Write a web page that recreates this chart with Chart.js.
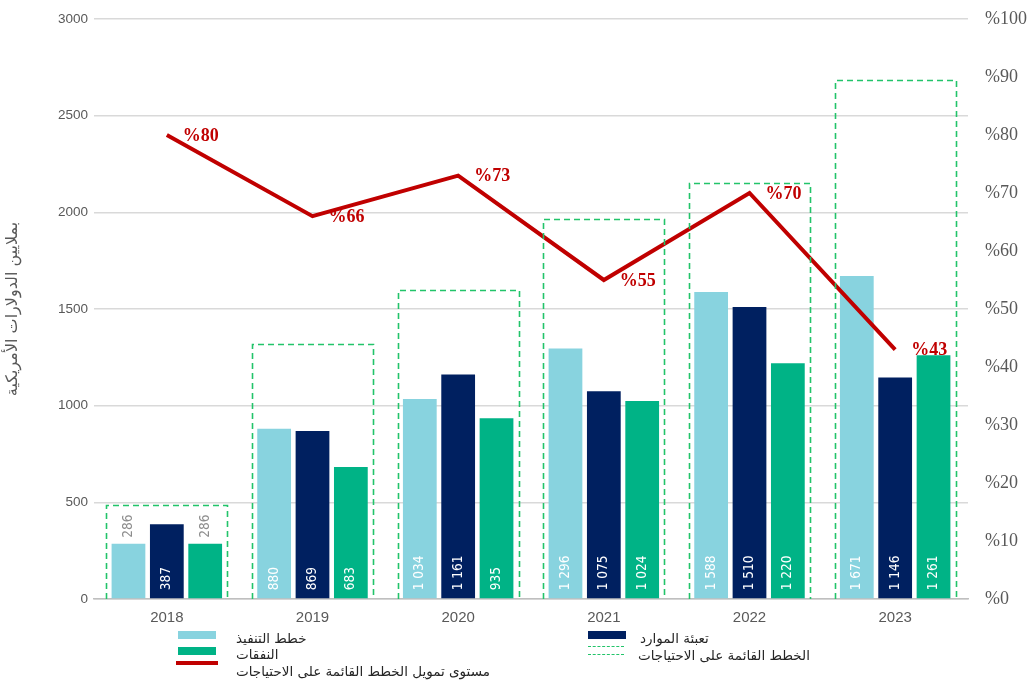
<!DOCTYPE html>
<html lang="ar">
<head>
<meta charset="utf-8">
<script src="https://cdn.jsdelivr.net/npm/chart.js@4.4.1/dist/chart.umd.min.js"></script>
<style>
  html, body { margin: 0; padding: 0; background: #ffffff; }
  #wrap { position: relative; width: 1035px; height: 682px; overflow: hidden; }
  canvas { position: absolute; left: 0; top: 0; }
  .lg-sw { position: absolute; width: 38px; height: 8px; }
  .lg-line { position: absolute; width: 42px; height: 4px; background: #c00000; }
  .lg-dash { position: absolute; width: 36px; height: 7px; border-top: 1.5px dashed #22c46a; border-bottom: 1.5px dashed #22c46a; }
  .lg-tx { position: absolute; font-family: "DejaVu Sans", sans-serif; font-size: 13.5px; color: #262626; white-space: nowrap; direction: rtl; line-height: 15px; }
</style>
</head>
<body>
<div id="wrap">
  <canvas id="c" width="1035" height="682"></canvas>
  <div class="lg-sw" style="left:178px; top:631px; background:#88d3df;"></div>
  <div class="lg-tx" style="left:236px; top:631px;">خطط التنفيذ</div>
  <div class="lg-sw" style="left:178px; top:647px; background:#00b386;"></div>
  <div class="lg-tx" style="left:236px; top:647px;">النفقات</div>
  <div class="lg-line" style="left:176px; top:661px;"></div>
  <div class="lg-tx" style="left:236px; top:664px;">مستوى تمويل الخطط القائمة على الاحتياجات</div>
  <div class="lg-sw" style="left:588px; top:631px; background:#002060;"></div>
  <div class="lg-tx" style="left:640px; top:631px;">تعبئة الموارد</div>
  <div class="lg-dash" style="left:588px; top:646px;"></div>
  <div class="lg-tx" style="left:638px; top:648px;">الخطط القائمة على الاحتياجات</div>
</div>
<script>
// ---- data ----
const years = ['2018', '2019', '2020', '2021', '2022', '2023'];
const implementationPlans = [286, 880, 1034, 1296, 1588, 1671];   // خطط التنفيذ
const resourceMobilization = [387, 869, 1161, 1075, 1510, 1146];  // تعبئة الموارد
const expenditure = [286, 683, 935, 1024, 1220, 1261];            // النفقات
const needsBasedPlans = [486, 1319, 1598, 1966, 2152, 2684];      // الخطط القائمة على الاحتياجات
const fundingLevel = [80, 66, 73, 55, 70, 43];                    // مستوى التمويل %

const seriesNames = {
  impl: 'خطط التنفيذ',
  mob: 'تعبئة الموارد',
  exp: 'النفقات',
  needs: 'الخطط القائمة على الاحتياجات',
  level: 'مستوى تمويل الخطط القائمة على الاحتياجات'
};
const yAxisTitle = 'بملايين الدولارات الأمريكية';

const COL_LIGHT = '#88d3df';
const COL_NAVY = '#002060';
const COL_GREEN = '#00b386';
const COL_RED = '#c00000';
const COL_DASH = '#22c46a';
const BOX_SHARE = 0.83; // share of a category taken by the dashed box

function fmt(v) {
  const s = String(v);
  return v >= 1000 ? s.slice(0, s.length - 3) + ' ' + s.slice(-3) : s;
}

// dashed outline boxes, positioned from the invisible dataset 3 points and the library's scales
const dashedBoxes = {
  id: 'dashedBoxes',
  afterDatasetsDraw(chart) {
    const meta = chart.getDatasetMeta(3);
    const xs = chart.scales.x;
    const ys = chart.scales.y;
    const catW = xs.getPixelForValue(1) - xs.getPixelForValue(0);
    const base = ys.getPixelForValue(0);
    const ctx = chart.ctx;
    ctx.save();
    ctx.strokeStyle = COL_DASH;
    ctx.lineWidth = 1.6;
    ctx.setLineDash([6, 4]);
    meta.data.forEach(el => {
      const p = el.getProps(['x', 'y'], true);
      const l = Math.round(p.x - catW * BOX_SHARE / 2) + 0.5;
      const r = Math.round(p.x + catW * BOX_SHARE / 2) + 0.5;
      const t = Math.round(p.y) + 0.5;
      ctx.beginPath();
      ctx.moveTo(l, base);
      ctx.lineTo(l, t);
      ctx.lineTo(r, t);
      ctx.lineTo(r, base);
      ctx.stroke();
    });
    ctx.restore();
  }
};

const barLabels = {
  id: 'barLabels',
  afterDatasetsDraw(chart) {
    const ctx = chart.ctx;
    [0, 1, 2].forEach(di => {
      const meta = chart.getDatasetMeta(di);
      const data = chart.data.datasets[di].data;
      meta.data.forEach((el, i) => {
        const p = el.getProps(['x', 'y', 'base'], true);
        const h = p.base - p.y;
        const inside = h >= 60;
        ctx.save();
        ctx.font = '13.5px "DejaVu Sans Condensed", "DejaVu Sans", sans-serif';
        ctx.fillStyle = inside ? '#ffffff' : '#8c8c8c';
        ctx.textAlign = 'left';
        ctx.textBaseline = 'middle';
        ctx.translate(p.x, inside ? p.base - 8 : p.y - 6);
        ctx.rotate(-Math.PI / 2);
        ctx.fillText(fmt(data[i]), 0, 0);
        ctx.restore();
      });
    });
  }
};

const lineLabels = {
  id: 'lineLabels',
  afterDraw(chart) {
    const ctx = chart.ctx;
    const meta = chart.getDatasetMeta(4);
    const data = chart.data.datasets[4].data;
    ctx.save();
    ctx.font = 'bold 18px "Liberation Serif", serif';
    ctx.fillStyle = COL_RED;
    ctx.textAlign = 'left';
    ctx.textBaseline = 'middle';
    meta.data.forEach((el, i) => {
      const p = el.getProps(['x', 'y'], true);
      ctx.fillText('%' + data[i], p.x + 16, p.y + 1);
    });
    ctx.restore();
  }
};

new Chart(document.getElementById('c'), {
  type: 'bar',
  data: {
    labels: years,
    datasets: [
      { label: seriesNames.impl, data: implementationPlans, backgroundColor: COL_LIGHT, yAxisID: 'y', order: 2, barPercentage: 0.88, categoryPercentage: 0.79 },
      { label: seriesNames.mob, data: resourceMobilization, backgroundColor: COL_NAVY, yAxisID: 'y', order: 2, barPercentage: 0.88, categoryPercentage: 0.79 },
      { label: seriesNames.exp, data: expenditure, backgroundColor: COL_GREEN, yAxisID: 'y', order: 2, barPercentage: 0.88, categoryPercentage: 0.79 },
      { type: 'line', label: seriesNames.needs, data: needsBasedPlans, showLine: false, pointRadius: 0, borderColor: COL_DASH, backgroundColor: 'rgba(0,0,0,0)', yAxisID: 'y', order: 3 },
      { type: 'line', label: seriesNames.level, data: fundingLevel, borderColor: COL_RED, backgroundColor: COL_RED, borderWidth: 4, pointRadius: 0, tension: 0, yAxisID: 'y1', order: 0, borderJoinStyle: 'miter' }
    ]
  },
  options: {
    responsive: false,
    animation: false,
    events: [],
    layout: { padding: { top: 19, left: 0, right: 0, bottom: 0 } },
    plugins: { legend: { display: false }, tooltip: { enabled: false } },
    scales: {
      x: {
        type: 'category',
        offset: true,
        grid: { display: false, drawTicks: false },
        border: { display: true, color: '#bfbfbf', width: 1.5 },
        ticks: { color: '#595959', font: { family: '"Liberation Sans", sans-serif', size: 15 }, padding: 10 },
        afterFit(s) { s.height = 83; s.paddingLeft = 0; s.paddingRight = 0; }
      },
      y: {
        position: 'left',
        min: 0, max: 3000,
        ticks: { stepSize: 500, color: '#595959', font: { family: '"Liberation Sans", sans-serif', size: 13.5 }, padding: 6, callback: v => String(v) },
        grid: { color: '#d9d9d9', lineWidth: 1.5, drawTicks: false },
        border: { display: false },
        title: { display: true, text: yAxisTitle, color: '#595959', font: { family: '"DejaVu Sans", serif', size: 16 }, padding: { top: 3, bottom: 0 } },
        afterFit(s) { s.width = 94; s.paddingTop = 0; s.paddingBottom = 0; }
      },
      y1: {
        position: 'right',
        min: 0, max: 100,
        ticks: { stepSize: 10, color: '#595959', font: { family: '"Liberation Serif", serif', size: 18 }, padding: 17, callback: v => '%' + v },
        grid: { display: false, drawTicks: false },
        border: { display: false },
        afterFit(s) { s.width = 67; s.paddingTop = 0; s.paddingBottom = 0; }
      }
    }
  },
  plugins: [dashedBoxes, barLabels, lineLabels]
});
</script>
</body>
</html>
